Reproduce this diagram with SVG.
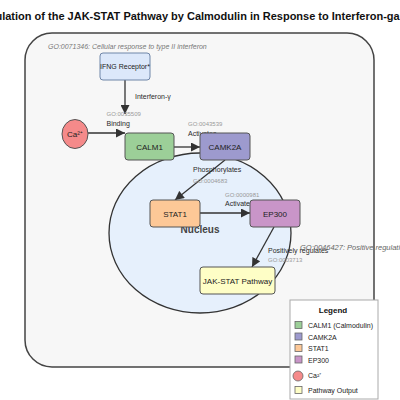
<svg xmlns="http://www.w3.org/2000/svg" width="400" height="400" viewBox="0 0 400 400">
<defs>
<marker id="arr" viewBox="0 0 10 10" refX="10" refY="5" markerWidth="10" markerHeight="9" markerUnits="userSpaceOnUse" orient="auto">
<path d="M0,0 L10,5 L0,10 z" fill="#333"/>
</marker>
<style>
text{font-family:"Liberation Sans",Arial,sans-serif}
.node{stroke:#555;stroke-width:1}
.nt{font-size:8px;fill:#222;text-anchor:middle}
.lbl{font-size:7px;fill:#2a2a2a}
.go{font-size:6px;fill:#999}
.edge{stroke:#333;stroke-width:1.3;fill:none;marker-end:url(#arr)}
.leg{font-size:7px;fill:#222}
.sw{stroke:#666;stroke-width:0.8}
</style>
</defs>
<rect width="400" height="400" fill="#fff"/>
<text x="200" y="20" text-anchor="middle" font-size="11" font-weight="bold" fill="#111">Regulation of the JAK-STAT Pathway by Calmodulin in Response to Interferon-gamma</text>
<g id="cell">
<rect x="25" y="33" width="349" height="334" rx="27" ry="27" fill="#f7f7f7" stroke="#444" stroke-width="1.5"/>
<text x="48" y="49" font-size="7" font-style="italic" fill="#777">GO:0071346: Cellular response to type II interferon</text>
</g>
<g id="nucleus">
<ellipse cx="200" cy="233" rx="91" ry="80" fill="#e6f0fc" stroke="#333" stroke-width="1.3"/>
<text x="200" y="233" text-anchor="middle" font-size="10" font-weight="bold" fill="#444">Nucleus</text>
</g>
<g id="connectors">
<line class="edge" x1="125" y1="80" x2="125" y2="114"/>
<text class="lbl" x="135" y="99">Interferon-γ</text>
<line class="edge" x1="88" y1="133" x2="125" y2="133"/>
<text class="go" x="106.5" y="116">GO:0035509</text>
<text class="lbl" x="106.5" y="126">Binding</text>
<line class="edge" x1="174" y1="147" x2="200" y2="147"/>
<text class="go" x="188" y="126">GO:0043539</text>
<text class="lbl" x="188" y="135.5">Activates</text>
<line class="edge" x1="225" y1="160" x2="175" y2="200"/>
<text class="lbl" x="193" y="172">Phosphorylates</text>
<text class="go" x="193" y="183">GO:0004683</text>
<line class="edge" x1="200" y1="213" x2="250" y2="213"/>
<text class="go" x="225" y="196.5">GO:0000981</text>
<text class="lbl" x="225" y="206">Activates</text>
<line class="edge" x1="274" y1="227" x2="252" y2="267"/>
<text class="lbl" x="268" y="252.5">Positively regulates</text>
<text class="go" x="268" y="262">GO:0003713</text>
</g>
<g id="ifng">
<rect x="100" y="53" width="50" height="27" rx="3" fill="#dce8fa" stroke="#6f86a8" stroke-width="1"/>
<text x="125" y="69" text-anchor="middle" font-size="7" fill="#222">IFNG Receptor*</text>
</g>
<g id="ca">
<ellipse cx="75" cy="134" rx="13" ry="14.5" fill="#f58a8a" stroke="#555" stroke-width="1"/>
<text x="75" y="137" text-anchor="middle" font-size="8" fill="#222">Ca²⁺</text>
</g>
<g id="calm1">
<rect class="node" x="125" y="133" width="49" height="27" rx="3" fill="#9ccf98"/>
<text class="nt" x="149.5" y="149.5">CALM1</text>
</g>
<g id="camk2a">
<rect class="node" x="200" y="133" width="50" height="27" rx="3" fill="#9d9ace"/>
<text class="nt" x="225" y="149.5">CAMK2A</text>
</g>
<g id="stat1">
<rect class="node" x="150" y="200" width="50" height="27" rx="3" fill="#fdc897"/>
<text class="nt" x="175" y="216.5">STAT1</text>
</g>
<g id="ep300">
<rect class="node" x="250" y="200" width="50" height="27" rx="3" fill="#c995c8"/>
<text class="nt" x="275" y="216.5">EP300</text>
</g>
<g id="jakstat">
<rect class="node" x="200" y="267" width="75" height="27" rx="3" fill="#fefec6"/>
<text class="nt" x="237.5" y="283.5">JAK-STAT Pathway</text>
</g>
<text x="300" y="250" font-size="7.5" font-style="italic" fill="#666">GO:0046427: Positive regulation of receptor signaling pathway via JAK-STAT</text>
<g id="legend">
<rect x="290" y="300" width="88" height="99" fill="#fff" stroke="#aaa" stroke-width="1"/>
<text x="333" y="313" text-anchor="middle" font-size="8" font-weight="bold" fill="#111">Legend</text>
<rect class="sw" x="295" y="321.5" width="7" height="7" fill="#9ccf98"/>
<text class="leg" x="308" y="328">CALM1 (Calmodulin)</text>
<rect class="sw" x="295" y="333" width="7" height="7" fill="#9d9ace"/>
<text class="leg" x="308" y="339.5">CAMK2A</text>
<rect class="sw" x="295" y="344.5" width="7" height="7" fill="#fdc897"/>
<text class="leg" x="308" y="351">STAT1</text>
<rect class="sw" x="295" y="356" width="7" height="7" fill="#c995c8"/>
<text class="leg" x="308" y="362.5">EP300</text>
<ellipse class="sw" cx="298" cy="376" rx="5" ry="5" fill="#f58a8a"/>
<text class="leg" x="308" y="378">Ca²⁺</text>
<rect class="sw" x="295" y="386.5" width="7" height="7" fill="#fefec6"/>
<text class="leg" x="308" y="393">Pathway Output</text>
</g>
</svg>
